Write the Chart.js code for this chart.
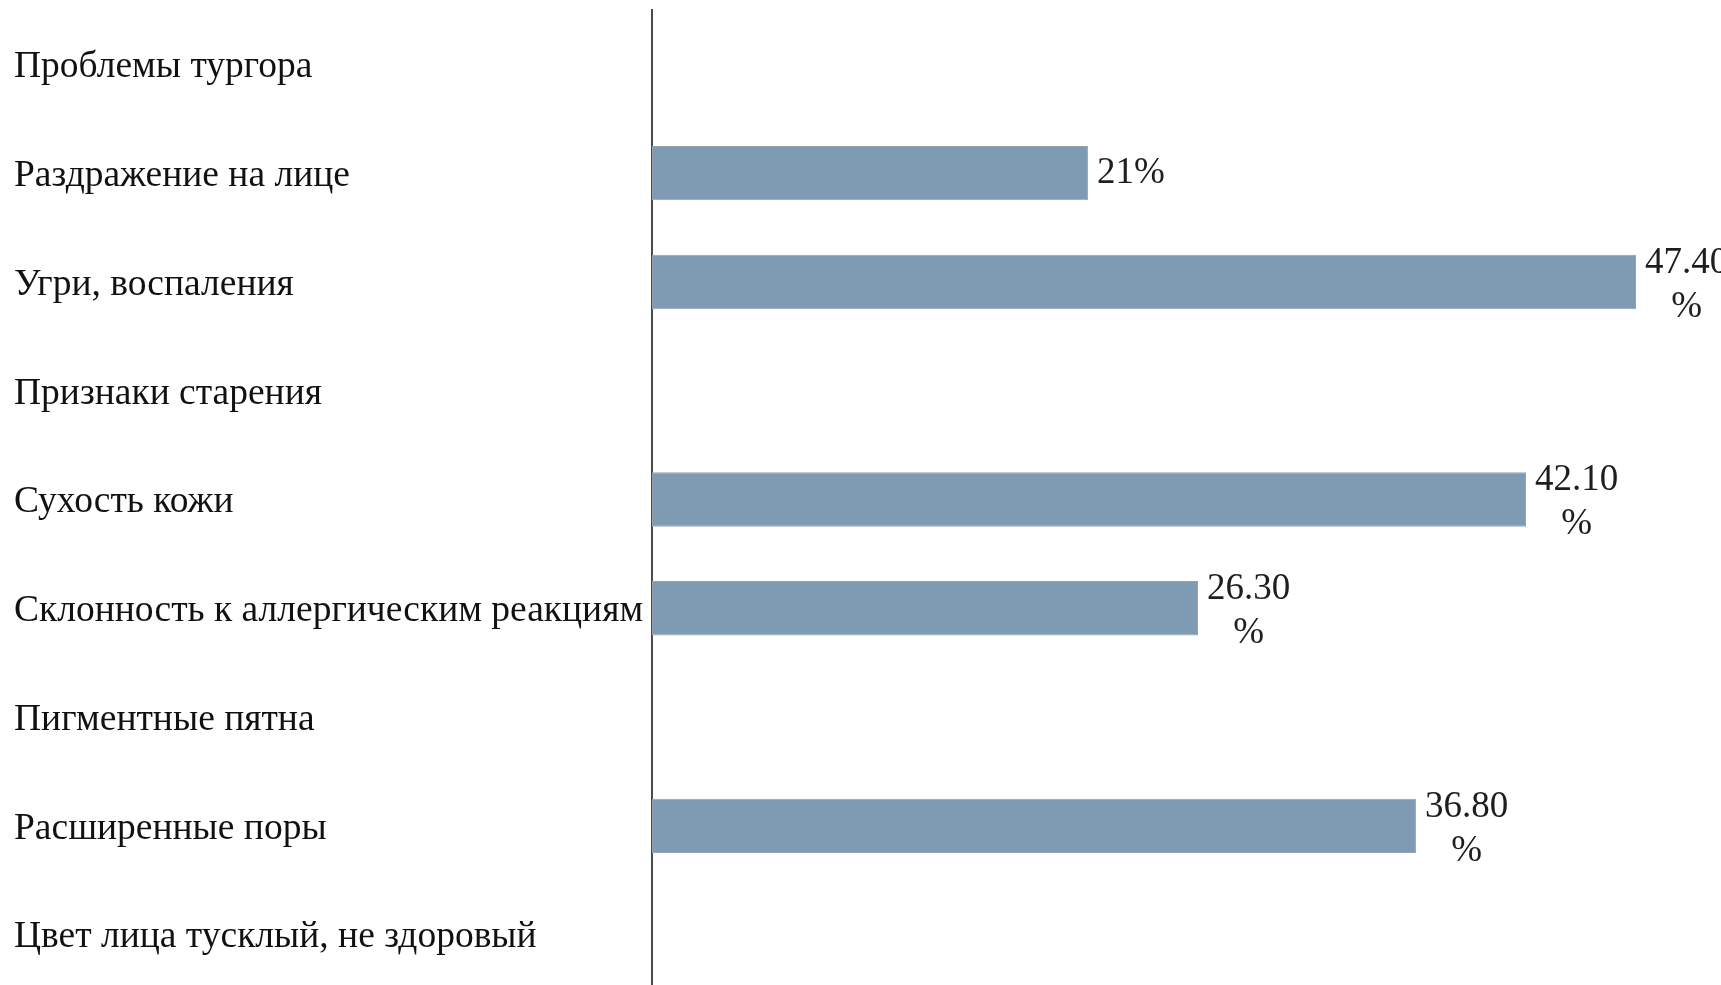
<!DOCTYPE html>
<html>
<head>
<meta charset="utf-8">
<script src="https://cdn.jsdelivr.net/npm/chart.js@4.4.1/dist/chart.umd.min.js"></script>
<style>
  html, body { margin: 0; padding: 0; background: #ffffff; overflow: hidden; }
  #wrap { width: 1721px; height: 990px; position: relative; }
</style>
</head>
<body>
<div id="wrap"><canvas id="c" width="1721" height="990"></canvas></div>
<script>
// ---- data ----
const categories = [
  "Проблемы тургора",
  "Раздражение на лице",
  "Угри, воспаления",
  "Признаки старения",
  "Сухость кожи",
  "Склонность к аллергическим реакциям",
  "Пигментные пятна",
  "Расширенные поры",
  "Цвет лица тусклый, не здоровый"
];
const values = [null, 21, 47.4, null, 42.1, 26.3, null, 36.8, null];
const valueLabels = [
  [],
  ["21%"],
  ["47.40", "%"],
  [],
  ["42.10", "%"],
  ["26.30", "%"],
  [],
  ["36.80", "%"],
  []
];
const xMin = 0;
const xMax = 50;

// ---- value label plugin ----
const valueLabelPlugin = {
  id: 'valueLabels',
  afterDatasetsDraw(chart) {
    const ctx = chart.ctx;
    const meta = chart.getDatasetMeta(0);
    const xs = chart.scales.x;
    ctx.save();
    ctx.font = '37px "Liberation Serif", "Times New Roman", serif';
    ctx.fillStyle = '#1e1e1e';
    ctx.textBaseline = 'middle';
    meta.data.forEach((bar, i) => {
      const lines = valueLabels[i];
      if (!lines || !lines.length || values[i] == null) return;
      const xEnd = xs.getPixelForValue(values[i]);
      const yc = bar.y + (lines.length > 1 ? 3 : 0);
      const lh = 44;
      const w0 = ctx.measureText(lines[0]).width;
      const left = xEnd + 9;
      const cx = left + w0 / 2;
      const startY = yc - (lines.length - 1) * lh / 2;
      ctx.textAlign = 'center';
      lines.forEach((ln, k) => {
        ctx.fillText(ln, cx, startY + k * lh);
      });
    });
    ctx.restore();
  }
};

new Chart(document.getElementById('c'), {
  type: 'bar',
  data: {
    labels: categories,
    datasets: [{
      data: values,
      backgroundColor: '#7f9bb4',
      borderColor: '#95a2ae',
      borderWidth: 1,
      borderSkipped: false,
      categoryPercentage: 1.0,
      barPercentage: 0.5
    }]
  },
  options: {
    indexAxis: 'y',
    responsive: false,
    animation: false,
    devicePixelRatio: 1,
    layout: { padding: { left: 14, right: 31, top: 10, bottom: 1 } },
    plugins: {
      legend: { display: false },
      tooltip: { enabled: false }
    },
    scales: {
      x: {
        display: false,
        min: xMin,
        max: xMax
      },
      y: {
        grid: { display: false },
        border: { display: true, color: '#4a4a4a', width: 2 },
        ticks: {
          crossAlign: 'far',
          color: '#111111',
          padding: 0,
          labelOffset: 3,
          font: { family: '"Liberation Serif", "Times New Roman", serif', size: 37.5 }
        },
        afterFit(scale) {
          scale.width = 638;
          scale.paddingTop = 0;
          scale.paddingBottom = 0;
        }
      }
    }
  },
  plugins: [valueLabelPlugin]
});
</script>
</body>
</html>
